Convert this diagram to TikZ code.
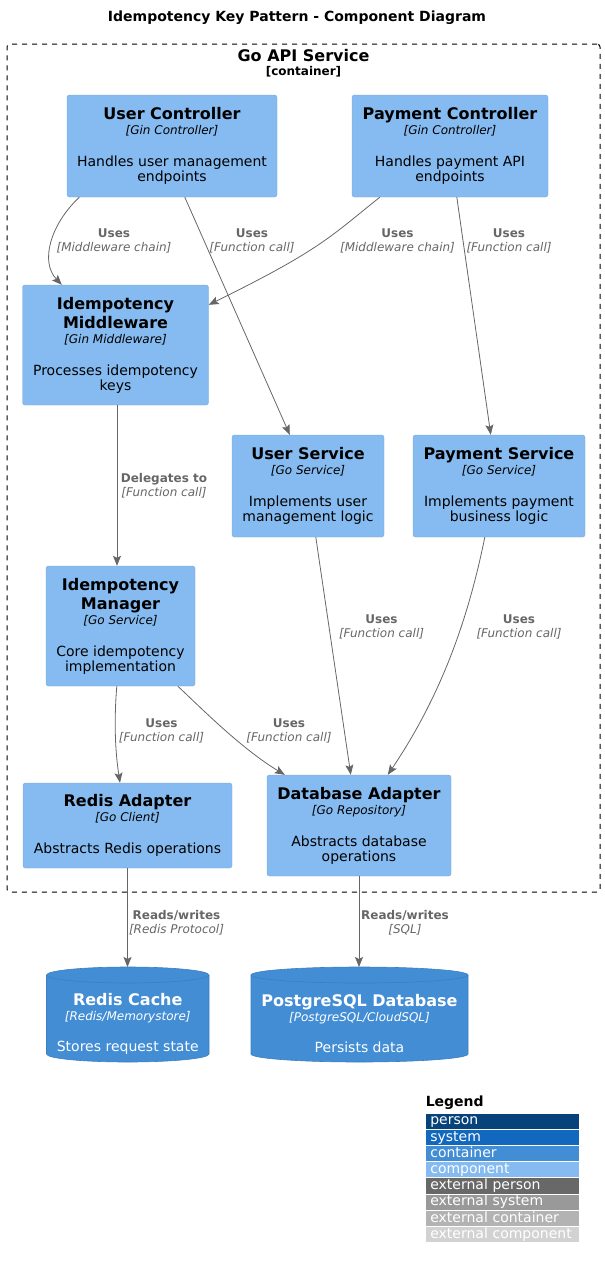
\documentclass[tikz,border=0pt]{standalone}
\usepackage{fontspec}
\setmainfont{DejaVu Sans}
\usetikzlibrary{arrows.meta}
\definecolor{compfill}{HTML}{85BBF0}
\definecolor{compline}{HTML}{78A8D8}
\definecolor{contfill}{HTML}{438DD5}
\definecolor{contline}{HTML}{3C7FC0}
\definecolor{relgray}{HTML}{666666}
\definecolor{lperson}{HTML}{08427B}
\definecolor{lsystem}{HTML}{1168BD}
\definecolor{lcontainer}{HTML}{438DD5}
\definecolor{lcomponent}{HTML}{85BBF0}
\definecolor{lextperson}{HTML}{686868}
\definecolor{lextsystem}{HTML}{999999}
\definecolor{lextcontainer}{HTML}{B3B3B3}
\definecolor{lextcomponent}{HTML}{D2D2D2}
\newcommand{\ctitle}{\bfseries\fontsize{16}{16}\selectfont}
\newcommand{\ctech}{\itshape\fontsize{12}{12}\selectfont}
\tikzset{
  comp/.style={draw=compline,fill=compfill,rounded corners=2.5pt,align=center,inner sep=0pt,font=\fontsize{14}{16}\selectfont},
  dbtext/.style={text=white,align=center,inner sep=0pt,font=\fontsize{14}{16}\selectfont},
  dbshape/.style={fill=contfill,draw=contline,line width=0.6pt},
  rel/.style={draw=relgray,line width=0.8pt,-{Stealth[length=10pt,width=8pt,inset=2pt]}},
  rellbl/.style={text=relgray,align=center,inner sep=0pt,font=\fontsize{12}{14}\selectfont},
  legrow/.style={anchor=north west,text width=144.6pt,inner xsep=4.5pt,inner ysep=0pt,minimum height=15.3pt,text height=10.5pt,text depth=3pt,align=left,text=white,font=\fontsize{14}{16}\selectfont}
}
\begin{document}
\begin{tikzpicture}[x=1pt,y=1pt,yscale=-1,xscale=1]
\useasboundingbox (0,0) rectangle (605,1269);
\node[font=\bfseries\fontsize{14}{16}\selectfont,inner sep=0pt] (title) at (297,18) {Idempotency Key Pattern - Component Diagram};
\node[draw=black,dash pattern=on 5pt off 5pt,rounded corners=3pt,line width=1pt,minimum width=593,minimum height=848] (api) at (303.5,468) {};
\node[font=\bfseries\fontsize{16}{16}\selectfont,inner sep=0pt] (apiname) at (303.5,55.7) {Go API Service};
\node[font=\bfseries\fontsize{12}{12}\selectfont,inner sep=0pt] (apitype) at (303.5,71.8) {[container]};

\node[comp,minimum width=210,minimum height=102] (uc) at (172,146) {{\ctitle User Controller}\\[-1pt]{\ctech [Gin Controller]}\\[16pt]Handles user management\\[-1pt]endpoints};
\node[comp,minimum width=196,minimum height=102] (pc) at (450,146) {{\ctitle Payment Controller}\\[-1pt]{\ctech [Gin Controller]}\\[16pt]Handles payment API\\[-1pt]endpoints};
\node[comp,minimum width=186,minimum height=120] (mw) at (115.5,345) {{\ctitle Idempotency}\\[3pt]{\ctitle Middleware}\\[-1pt]{\ctech [Gin Middleware]}\\[16pt]Processes idempotency\\[-1pt]keys};
\node[comp,minimum width=152,minimum height=102] (us) at (308,486) {{\ctitle User Service}\\[-1pt]{\ctech [Go Service]}\\[16pt]Implements user\\[-1pt]management logic};
\node[comp,minimum width=172,minimum height=102] (ps) at (499,486) {{\ctitle Payment Service}\\[-1pt]{\ctech [Go Service]}\\[16pt]Implements payment\\[-1pt]business logic};
\node[comp,minimum width=149,minimum height=120] (mgr) at (120.5,626) {{\ctitle Idempotency}\\[3pt]{\ctitle Manager}\\[-1pt]{\ctech [Go Service]}\\[16pt]Core idempotency\\[-1pt]implementation};
\node[comp,minimum width=209,minimum height=85] (ra) at (127.5,825.5) {{\ctitle Redis Adapter}\\[-1pt]{\ctech [Go Client]}\\[16pt]Abstracts Redis operations};
\node[comp,minimum width=184,minimum height=101] (da) at (359,825.5) {{\ctitle Database Adapter}\\[-1pt]{\ctech [Go Repository]}\\[16pt]Abstracts database\\[-1pt]operations};

\filldraw[dbshape] (46.5,975) -- (46.5,1054) arc[start angle=180,end angle=0,x radius=81.25,y radius=8] -- (209,975) arc[start angle=0,end angle=-180,x radius=81.25,y radius=8] -- cycle;
\draw[contline,line width=0.6pt] (46.5,975) arc[start angle=180,end angle=0,x radius=81.25,y radius=8];
\filldraw[dbshape] (251,975) -- (251,1054) arc[start angle=180,end angle=0,x radius=108.5,y radius=8] -- (468,975) arc[start angle=0,end angle=-180,x radius=108.5,y radius=8] -- cycle;
\draw[contline,line width=0.6pt] (251,975) arc[start angle=180,end angle=0,x radius=108.5,y radius=8];
\coordinate (rctop) at (127.5,967);
\coordinate (pgtop) at (359,967);
\node[dbtext] (rc) at (127.75,1024) {{\ctitle Redis Cache}\\[-1pt]{\ctech [Redis/Memorystore]}\\[15pt]Stores request state};
\node[dbtext] (pg) at (359.5,1024) {{\ctitle PostgreSQL Database}\\[-1pt]{\ctech [PostgreSQL/CloudSQL]}\\[15pt]Persists data};

\draw[rel] ([xshift=12.5pt]uc.south west) .. controls (50,225) and (40,262) .. ([xshift=39.5pt]mw.north west);
\draw[rel] ([xshift=118pt]uc.south west) -- ([xshift=58pt]us.north west);
\draw[rel] ([xshift=28pt]pc.south west) .. controls (330,237) and (320,250) .. ([yshift=20pt]mw.north east);
\draw[rel] ([xshift=105pt]pc.south west) -- ([xshift=78pt]ps.north west);
\draw[rel] ([xshift=1.5pt]mw.south) -- ([xshift=-3.5pt]mgr.north);
\draw[rel] ([xshift=84pt]us.south west) -- ([xshift=84pt]da.north west);
\draw[rel] ([xshift=72pt]ps.south west) .. controls (470,610) and (445,690) .. ([xshift=121pt]da.north west);
\draw[rel] ([xshift=71pt]mgr.south west) .. controls (114,720) and (115,750) .. ([xshift=-7.5pt]ra.north);
\draw[rel] ([xshift=132pt]mgr.south west) .. controls (195,702) and (240,748) .. ([xshift=18pt]da.north west);
\draw[rel] (ra.south) -- (rctop);
\draw[rel] (da.south) -- (pgtop);

\node[rellbl] (l1) at (114,241) {{\bfseries Uses}\\{\itshape [Middleware chain]}};
\node[rellbl] (l2) at (252,241) {{\bfseries Uses}\\{\itshape [Function call]}};
\node[rellbl] (l3) at (397.5,241) {{\bfseries Uses}\\{\itshape [Middleware chain]}};
\node[rellbl] (l4) at (509,241) {{\bfseries Uses}\\{\itshape [Function call]}};
\node[rellbl] (l5) at (164,486) {{\bfseries Delegates to}\\{\itshape [Function call]}};
\node[rellbl] (l6) at (381.5,627) {{\bfseries Uses}\\{\itshape [Function call]}};
\node[rellbl] (l7) at (519,627) {{\bfseries Uses}\\{\itshape [Function call]}};
\node[rellbl] (l8) at (161.5,731) {{\bfseries Uses}\\{\itshape [Function call]}};
\node[rellbl] (l9) at (289,731) {{\bfseries Uses}\\{\itshape [Function call]}};
\node[rellbl] (l10) at (176.5,923) {{\bfseries Reads/writes}\\{\itshape [Redis Protocol]}};
\node[rellbl] (l11) at (405,923) {{\bfseries Reads/writes}\\{\itshape [SQL]}};

\node[font=\bfseries\fontsize{14}{16}\selectfont,anchor=base west,inner sep=0pt] (legend) at (425.6,1106) {Legend};
\foreach \col/\txt [count=\i] in {lperson/person,lsystem/system,lcontainer/container,lcomponent/component,lextperson/external person,lextsystem/external system,lextcontainer/external container,lextcomponent/external component}
  \node[legrow,fill=\col] (lg\i) at (425.6,{1113.3+16.2*(\i-1)}) {\txt};
\end{tikzpicture}
\end{document}
